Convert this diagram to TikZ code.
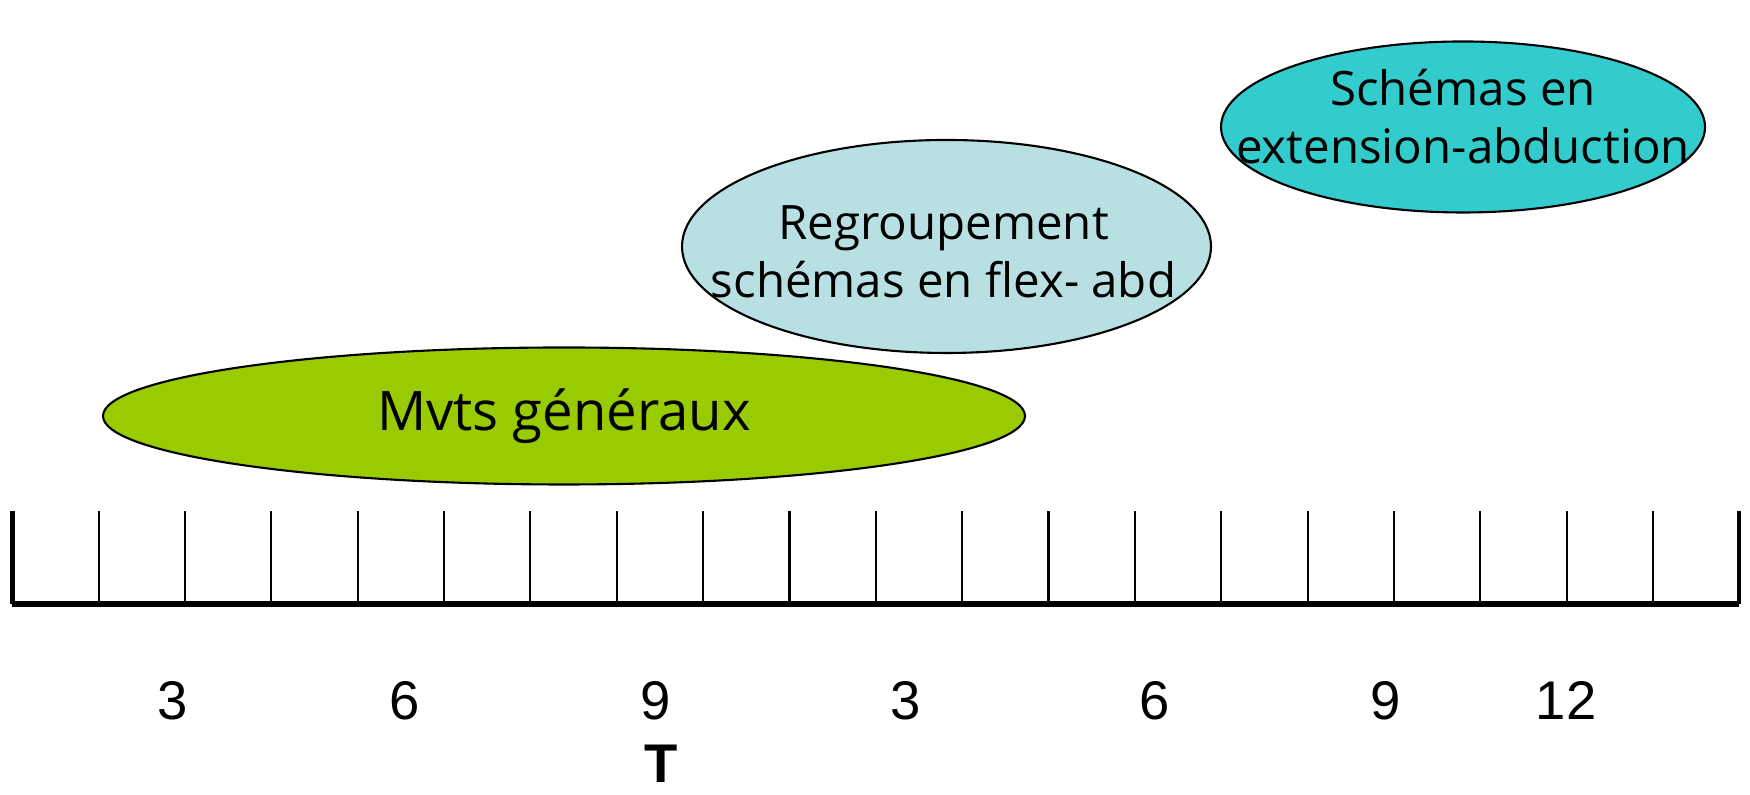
\documentclass[tikz,border=0pt]{standalone}
\usepackage{fontspec}
\setmainfont{Liberation Sans}
\newfontfamily\comicfont{Open Sans}
\usetikzlibrary{calc,shapes.geometric}
\definecolor{mvtgreen}{HTML}{99CC00}
\definecolor{flexblue}{HTML}{B8E0E3}
\definecolor{extcyan}{HTML}{33CCCC}
\tikzset{blob/.style={ellipse, fill=#1, draw=black, line width=0.6pt, inner sep=0pt},
  blobtext/.style={font=\comicfont\fontsize{13.5}{16.5}\selectfont, align=center, inner sep=0pt},
  agelbl/.style={font=\fontsize{15.5}{18}\selectfont, anchor=base, inner sep=0pt}}
\begin{document}
\begin{tikzpicture}
\useasboundingbox (0,0) rectangle (17.5,7.95);
\coordinate (rl) at (0.123,1.91);
\coordinate (rr) at (17.39,1.91);
% time ruler
\foreach \i in {1,...,19}{\draw[line width=0.6pt] ($(rl)+(0.8635*\i,0)$) -- ++(0,0.93);}
\draw[line width=1.3pt] ($(rl)+(0,0.93)$) -- (rl);
\draw[line width=1.3pt] ($(rr)+(0,0.93)$) -- (rr);
\draw[line width=1.8pt] (rl) -- (rr);
\foreach \x/\n/\t in {1.73/a3/3, 4.05/a6/6, 6.56/a9/9, 9.06/b3/3, 11.55/b6/6, 13.86/b9/9, 15.66/b12/12}{\node[agelbl] (\n) at (\x,0.75) {\t};}
\node[agelbl, font=\fontsize{15.5}{18}\selectfont\bfseries] (T) at (6.61,0.12) {T};

\node[blob=mvtgreen, minimum width=9.22cm, minimum height=1.37cm] (mvt) at (5.64,3.79) {};
\node[blobtext, font=\comicfont\fontsize{15.5}{18}\selectfont] (mvtT) at (mvt) {Mvts généraux};
\node[blob=flexblue, minimum width=5.29cm, minimum height=2.13cm] (flex) at (9.465,5.485) {};
\node[blobtext] (flexT) at ($(flex)+(-0.03,-0.05)$) {Regroupement\\schémas en flex- abd};
\node[blob=extcyan, minimum width=4.84cm, minimum height=1.71cm] (ext) at (14.63,6.68) {};
\node[blobtext] (extT) at ($(ext)+(0,0.1)$) {Schémas en\\extension-abduction};
\end{tikzpicture}
\end{document}
